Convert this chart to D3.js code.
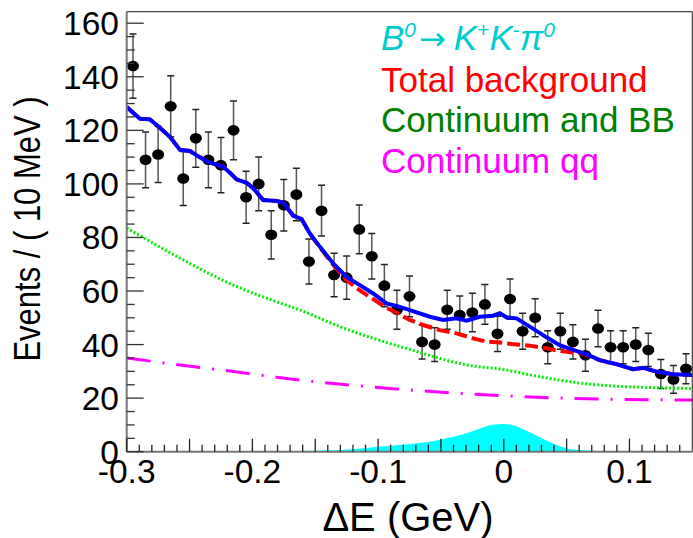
<!DOCTYPE html>
<html>
<head>
<meta charset="utf-8">
<script src="https://cdn.jsdelivr.net/npm/d3@7"></script>
<style>
  html, body { margin: 0; padding: 0; background: #fff; }
  svg { display: block; }
  text { font-family: "Liberation Sans", Arial, Helvetica, sans-serif; }
</style>
</head>
<body>
<svg id="chart" width="693" height="538"></svg>
<script>
// ---------------- data ----------------
const deltaE = [-0.295,-0.285,-0.275,-0.265,-0.255,-0.245,-0.235,-0.225,-0.215,-0.205,
                -0.195,-0.185,-0.175,-0.165,-0.155,-0.145,-0.135,-0.125,-0.115,-0.105,
                -0.095,-0.085,-0.075,-0.065,-0.055,-0.045,-0.035,-0.025,-0.015,-0.005,
                 0.005, 0.015, 0.025, 0.035, 0.045, 0.055, 0.065, 0.075, 0.085, 0.095,
                 0.105, 0.115, 0.125, 0.135, 0.145];
const counts = [144,109,111,129,102,117,109,107,120,95,
                100,81,92,96,71,90,66,65,83,73,
                62,53,58,41,40,53,51,52,55,44,
                57,45,50,39,45,41,36,46,39,39,
                40,38,29,27,31];
const errors = [12.0,10.4,10.5,11.4,10.1,10.8,10.4,10.3,11.0,9.7,
                10.0,9.0,9.6,9.8,8.4,9.5,8.1,8.1,9.1,8.5,
                7.9,7.3,7.6,6.4,6.3,7.3,7.1,7.2,7.4,6.6,
                7.5,6.7,7.1,6.2,6.7,6.4,6.0,6.8,6.2,6.2,
                6.3,6.2,5.4,5.2,5.6];

// total fit (blue)
const totalX = [-0.300,-0.2894,-0.2815,-0.2762,-0.2656,-0.2576,-0.2497,-0.2417,-0.2338,-0.2232,
                -0.2179,-0.2126,-0.2046,-0.1994,-0.1914,-0.1808,-0.1755,-0.1676,-0.1609,-0.1543,
                -0.1463,-0.1357,-0.1251,-0.1145,-0.1039,-0.0933,-0.0827,-0.0748,-0.0588,-0.0483,
                -0.0376,-0.0297,-0.0191,-0.0085,-0.0032,0.0021,0.0101,0.0207,0.0340,0.0445,
                 0.0551,0.0658,0.0763,0.0896,0.1028,0.1108,0.1214,0.1346,0.1500];
const totalY = [128.7,124.3,124.1,122.0,117.6,112.7,112.3,109.9,107.9,106.4,
                104.2,101.7,100.4,98.4,94.0,93.6,93.0,88.2,86.9,81.5,
                76.5,70.3,65.3,62.2,59.1,55.4,54.1,52.9,50.4,49.2,
                49.8,48.9,50.4,50.8,51.7,50.2,49.8,46.7,42.7,39.8,
                38.0,36.4,34.2,32.7,30.8,31.3,29.9,28.9,28.6];

// total background (red dashed)
const bkgX = [-0.300,-0.2894,-0.2815,-0.2762,-0.2656,-0.2576,-0.2497,-0.2417,-0.2338,-0.2232,
              -0.2179,-0.2126,-0.2046,-0.1994,-0.1914,-0.1808,-0.1755,-0.1676,-0.1609,-0.1543,
              -0.1463,-0.1357,-0.1251,-0.1145,-0.1039,-0.0933,-0.0853,-0.0748,-0.0641,-0.0509,
              -0.0376,-0.0244,-0.0138,-0.0032,0.0061,0.0207,0.0340,0.0445,0.0551,0.0631,
               0.0763,0.0896,0.1028,0.1108,0.1214,0.1346,0.1500];
const bkgY = [128.7,124.3,124.1,122.0,117.6,112.7,112.3,109.9,107.9,106.4,
              104.2,101.7,100.4,98.4,94.0,93.6,93.0,88.2,86.9,81.5,
              76.3,69.8,64.1,60.2,57.0,53.7,51.9,49.2,47.3,45.4,
              44.2,42.3,41.1,40.8,40.2,39.6,38.6,37.6,37.0,36.6,
              34.2,32.7,30.8,31.3,29.9,28.9,28.6];

// continuum and BB (green dotted)
const contBBX = [-0.300,-0.2549,-0.2152,-0.1808,-0.1622,-0.1304,-0.0777,-0.0244,-0.0032,0.0286,0.0763,0.1500];
const contBBY = [83.5,71.6,62.2,56.0,52.9,46.7,38.6,32.0,30.9,28.0,24.9,23.6];

// continuum qq (magenta dash-dot)
const contQQX = [-0.300,-0.2610,-0.2046,-0.1808,-0.1224,-0.0244,0.0551,0.1500];
const contQQY = [35.0,32.6,29.3,27.8,24.9,21.5,19.9,19.3];

// signal B0 -> K+K-pi0 (cyan filled)
const sigX = [-0.300,-0.200,-0.150,-0.120,-0.0986,-0.0495,-0.0297,-0.0191,-0.0085,-0.0005,
               0.0074,0.0180,0.0286,0.0392,0.0498,0.0604,0.0763,0.1000,0.1500];
const sigY = [0.0,0.1,0.4,0.9,1.9,4.6,6.9,8.7,10.1,10.3,
              9.9,7.8,5.4,3.1,1.3,0.6,0.3,0.1,0.0];

const xTickLabels = ["-0.3","-0.2","-0.1","0","0.1"];
const yTickLabels = ["0","20","40","60","80","100","120","140","160"];

const legendLabels = ["Total background","Continuum and BB","Continuum qq"];

// ---------------- chart ----------------
const svg = d3.select("#chart");
const L = 126.7, R = 692.3, T = 11.7, B = 451.7;
const x = d3.scaleLinear().domain([-0.3, 0.15]).range([L, R]);
const y = d3.scaleLinear().domain([0, 164.3]).range([B, T]);

svg.append("defs").append("clipPath").attr("id","clip")
  .append("rect").attr("x", L).attr("y", T).attr("width", R - L).attr("height", B - T);

const plot = svg.append("g").attr("clip-path","url(#clip)");

// signal area
const sigData = sigX.map((v,i)=>[v, sigY[i]]);
plot.append("path")
  .datum(sigData)
  .attr("fill","#00ffff")
  .attr("stroke","none")
  .attr("d", d3.area().x(d=>x(d[0])).y0(y(0)).y1(d=>y(d[1])).curve(d3.curveMonotoneX));

// data points
const pts = plot.append("g");
deltaE.forEach((xv,i)=>{
  const cx = x(xv), v = counts[i], e = errors[i];
  const yt = y(v + e), yb = y(v - e);
  pts.append("line").attr("x1",cx).attr("x2",cx).attr("y1",yt).attr("y2",yb)
     .attr("stroke","#555").attr("stroke-width",1.5);
  [yt,yb].forEach(yy=>{
    pts.append("line").attr("x1",cx-3.5).attr("x2",cx+3.5).attr("y1",yy).attr("y2",yy)
       .attr("stroke","#222").attr("stroke-width",1.5);
  });
  pts.append("ellipse").attr("cx",cx).attr("cy",y(v)).attr("rx",6).attr("ry",5.3).attr("fill","#000");
});

function curve(xs, ys, color, width, dash, c) {
  const data = xs.map((v,i)=>[v, ys[i]]);
  const p = plot.append("path").datum(data)
    .attr("fill","none").attr("stroke",color).attr("stroke-width",width)
    .attr("d", d3.line().x(d=>x(d[0])).y(d=>y(d[1])).curve(c || d3.curveLinear));
  if (dash) p.attr("stroke-dasharray", dash);
  return p;
}
curve(contQQX, contQQY, "#ff00ff", 3, "24,12,2,12", d3.curveMonotoneX);
curve(contBBX, contBBY, "#00ee00", 3, "2,2", d3.curveMonotoneX);
curve(bkgX, bkgY, "#ff0000", 4, "13,5");
curve(totalX, totalY, "#0000ff", 4, null);

// axes frame
svg.append("line").attr("x1",L).attr("x2",R).attr("y1",T).attr("y2",T).attr("stroke","#444").attr("stroke-width",1.2);
svg.append("line").attr("x1",R).attr("x2",R).attr("y1",T).attr("y2",B).attr("stroke","#444").attr("stroke-width",1.2);
svg.append("line").attr("x1",L).attr("x2",L).attr("y1",T).attr("y2",B).attr("stroke","#777").attr("stroke-width",2);
svg.append("line").attr("x1",L).attr("x2",R).attr("y1",B).attr("y2",B).attr("stroke","#777").attr("stroke-width",2);

// x ticks (inside)
const xt = svg.append("g");
d3.range(0, 46).forEach(k=>{
  const v = -0.3 + k*0.01;
  const major = (k % 5 === 0);
  const px = x(v);
  if (px > R - 0.5) return;
  xt.append("line").attr("x1",px).attr("x2",px).attr("y1",B).attr("y2",B - (major ? 13 : 7))
    .attr("stroke","#222").attr("stroke-width",1.3);
});
xTickLabels.forEach(s=>{
  svg.append("text").attr("x", x(+s)).attr("y", 483)
    .attr("text-anchor","middle").attr("font-size",33.5).attr("fill","#000").text(s);
});

// y ticks (inside)
const yt = svg.append("g");
d3.range(0, 33).forEach(k=>{
  const v = k*5;
  const major = (k % 4 === 0);
  const py = y(v);
  yt.append("line").attr("x1",L).attr("x2",L + (major ? 17 : 8)).attr("y1",py).attr("y2",py)
    .attr("stroke","#333").attr("stroke-width",1.3);
});
yTickLabels.forEach(s=>{
  svg.append("text").attr("x", 119).attr("y", y(+s) + 12)
    .attr("text-anchor","end").attr("font-size",33.5).attr("fill","#000").text(s);
});

// axis titles
svg.append("text").attr("transform","translate(40,229) rotate(-90) scale(1,1.22)")
  .attr("text-anchor","middle").attr("font-size",31).attr("fill","#000")
  .text("Events / ( 10 MeV )");
svg.append("text").attr("x", 408).attr("y", 531)
  .attr("text-anchor","middle").attr("font-size",40).attr("fill","#000")
  .text("\u0394E (GeV)");

// legend
const lg = svg.append("text").attr("x", 381).attr("y", 50)
  .attr("font-size",35).attr("fill","#00cccc");
lg.append("tspan").attr("font-style","italic").text("B");
lg.append("tspan").attr("font-style","italic").attr("font-size",21).attr("dy",-13).text("0");
lg.append("tspan").attr("dy",13).attr("dx",3).attr("font-family","DejaVu Sans").attr("font-size",32).text("\u2192");
lg.append("tspan").attr("font-style","italic").attr("dx",8).text("K");
lg.append("tspan").attr("font-size",21).attr("dy",-13).text("+");
lg.append("tspan").attr("font-style","italic").attr("dy",13).text("K");
lg.append("tspan").attr("font-size",21).attr("dy",-13).text("-");
lg.append("tspan").attr("font-style","italic").attr("dy",13).text("\u03c0");
lg.append("tspan").attr("font-style","italic").attr("font-size",21).attr("dy",-13).text("0");

const legColors = ["#ff0000","#008000","#ff00ff"];
const legY = [91.5, 131.5, 173];
legendLabels.forEach((s,i)=>{
  svg.append("text").attr("x",381).attr("y",legY[i]).attr("font-size",35)
    .attr("fill",legColors[i]).text(s);
});
</script>
</body>
</html>
